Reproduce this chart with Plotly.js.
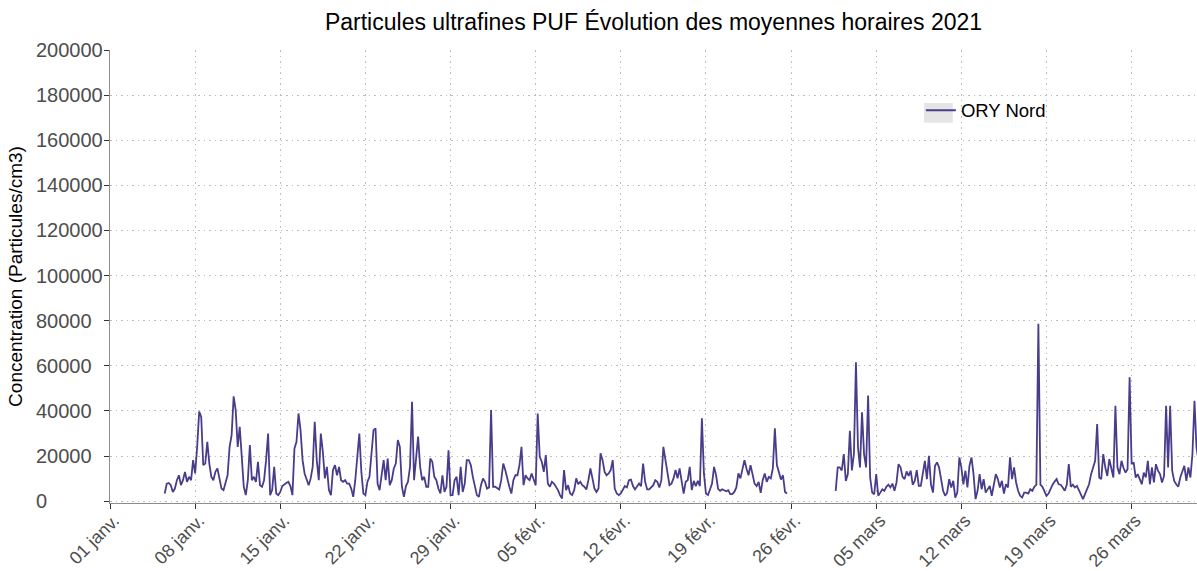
<!DOCTYPE html>
<html>
<head>
<meta charset="utf-8">
<script src="https://cdn.plot.ly/plotly-3.0.1.min.js"></script>
<style>
html,body{margin:0;padding:0;background:#fff;}
#chart{width:1197px;height:571px;}
</style>
</head>
<body>
<div id="chart"></div>
<script>
// ---- Data (hourly means, read every 4 hours) ----
const seriesName = "ORY Nord";
const startJan = "2021-01-05T12:00:00Z";   // first reading of segment 1
const startMar = "2021-03-01T16:00:00Z";   // first reading of segment 2
const stepHours = 4;

const valsA = [3400,7800,8100,7100,4100,5600,9300,11500,7100,9300,
13000,8600,10800,9300,18200,12300,24100,39700,37400,16000,
16700,26300,16700,10800,9300,13000,14500,9300,5600,4900,
7800,11500,24100,29300,46500,40400,24100,33000,19700,6400,
2700,9300,24900,9300,10800,8600,17500,7100,6400,9300,
18200,30000,2700,4900,15200,3400,2700,4100,6700,7500,
8100,8600,6700,2700,23400,26300,38900,31500,18200,12300,
9300,7100,10100,15200,35200,18200,9300,30000,21900,10100,
15200,4900,2700,13800,16000,11500,15200];

const valsB = [9300,8600,9300,7800,7800,5600,1900,9300,20400,30000,
13000,3400,2700,8600,10800,21900,31500,32300,7800,4900,
10800,18200,9300,18900,7100,9300,14500,16700,27100,24100,
6400,1900,6700,8600,15200,44100,9300,19700,28600,15200,
9300,10800,6400,6400,18900,17500,10800,9300,5600,3400,
11500,4100,6400,22600,2700,2700,9300,10800,2700,15200,
4100,7800,18200,18200,16000,10800,6400,2700,1900,7100,
10100,8600,5600,6100,40400,6400,6400,5600,5200,9300,
16700,13800,9300,6400,3400,9300];

const valsC = [11500,11500,16000,24100,7100,11500,10100,9300,12300,9300,
7100,38900,19700,17500,13000,20400,7800,6400,8600,7800,
6400,4900,2700,1200,13800,4900,7100,3400,2700,4900,
10100,7500,8600,7100,6400,5200,9300,14500,10100,5600,
4100,5600,21200,18200,13000,11500,12300,13800,18200,5600,
3400,2700,3400,5200,6700,6100,9300,9600,6700,5200,
6400,7800,6700,16700,8600,5200,5200,6100,7100,9300,
8600,6100,9300,24100,18200,14500,7100,7800,10100,13800,
10100,14500,9300,3400,8600,9300];

const valsD = [15200,4900,9000,6700,9000,6700,36700,12300,3400,2700,
5200,7800,15200,11500,5500,4600,5300,4900,4400,4900,
3100,3100,4100,6100,12300,10100,13800,18200,14500,11500,
16000,11100,7800,6700,8600,3700,9300,12300,8600,10800,
10100,14500,32300,16000,12300,9600,11500,4100,3400];

const valsE = [4600,15000,15000,13600,20900,9000,12000,31200,13600,20900,
61600,23800,15000,39400,20900,15000,46800,10500,3800,3100,
12000,2400,3800,5300,4600,6400,7300,6100,7800,4600,
8300,16400,15000,10800,9800,13200,11200,13500,7300,9000,
13800,6800,6800,13500,17900,9800,20100,7500,3800,15700,
17200,15000,9800,4600,2400,3800,9800,6100,9000,1600,
3800,19400,15000,7500,13500,6100,15700,19400,12000,900,
4600,12000,5300,9800,3800,5300,6800,2400,6800,12000,
9800,6100,9000,3400,7500,6100,19400];

const valsF = [9800,15000,8300,4600,2400,1600,3800,3800,3400,5300,
4600,6400,7300,78600,7300,6400,4600,2400,3400,5800,
7300,8700,9800,7500,7300,6100,4600,7300,16400,6400,
7300,6100,6800,4900,3100,900,3100,5800,7500,12000,
15000,17900,34200,10500,9800,20900,15000,11200,18600,13800,
10500,42300,15000,12000,17900,14700,12700,14200,54900,16400,
17200,10500,12000,9800,7500,12700,10500,17900,7500,15000,
8300,16400,13500,12000,8300,11200,42300,15000,42300,13500,
9000,7500,6400,10500,13500,15700,9000,15000,10500,20900,
44500,23800,18000];

const tickDates = ["2021-01-01","2021-01-08","2021-01-15","2021-01-22","2021-01-29",
"2021-02-05","2021-02-12","2021-02-19","2021-02-26","2021-03-05","2021-03-12",
"2021-03-19","2021-03-26"];
const tickLabels = ["01 janv.","08 janv.","15 janv.","22 janv.","29 janv.",
"05 févr.","12 févr.","19 févr.","26 févr.","05 mars","12 mars","19 mars","26 mars"];
const yTicks = [0,20000,40000,60000,80000,100000,120000,140000,160000,180000,200000];

// ---- Build ----
function timeAxis(startIso, n) {
  const t0 = new Date(startIso).getTime();
  const out = [];
  for (let k = 0; k < n; k++) {
    out.push(new Date(t0 + k * stepHours * 3600000).toISOString().slice(0,16).replace("T"," "));
  }
  return out;
}
const seg1 = valsA.concat(valsB, valsC, valsD);
const seg2 = valsE.concat(valsF);

const lineStyle = {color: "#483D8B", width: 1.8};
const traces = [
  {type:"scatter", mode:"lines", name:seriesName, legendgroup:"ory",
   x: timeAxis(startJan, seg1.length), y: seg1, line: lineStyle, hoverinfo:"x+y"},
  {type:"scatter", mode:"lines", name:seriesName, legendgroup:"ory", showlegend:false,
   x: timeAxis(startMar, seg2.length), y: seg2, line: lineStyle, hoverinfo:"x+y"}
];

const font = "Arial, 'Liberation Sans', sans-serif";
const gridStyle = {gridcolor:"#bdbdbd", gridwidth:1, griddash:"1.5px,4px"};

const annotations = yTicks.map(v => ({
  xref:"paper", yref:"y", x:-0.0695, y:v, xanchor:"left", yanchor:"middle",
  text:String(v), showarrow:false, font:{family:font, size:20, color:"#4d4d4d"}
}));

const layout = {
  width:1197, height:571,
  margin:{l:110, r:0, t:50, b:68},
  paper_bgcolor:"#ffffff", plot_bgcolor:"#ffffff",
  font:{family:font},
  title:{text:"Particules ultrafines PUF Évolution des moyennes horaires 2021",
         x:0.5, xref:"paper", y:0.962, yref:"container", yanchor:"middle",
         font:{family:font, size:23, color:"#000000"}},
  xaxis:Object.assign({
    type:"date", range:["2021-01-01 00:00","2021-03-31 09:00"],
    tickmode:"array", tickvals:tickDates, ticktext:tickLabels, tickangle:-45,
    tickfont:{family:font, size:18, color:"#4d4d4d"},
    ticklabelstandoff:-6, ticklabelshift:4,
    ticks:"outside", ticklen:5, tickcolor:"#333333", tickwidth:1,
    showline:true, linecolor:"#8c8c8c", linewidth:1,
    zeroline:false, showgrid:true, automargin:false
  }, gridStyle),
  yaxis:Object.assign({
    range:[-800, 200000], tickmode:"array", tickvals:yTicks,
    showticklabels:false,
    ticks:"outside", ticklen:5, tickcolor:"#333333", tickwidth:1,
    showline:true, linecolor:"#8c8c8c", linewidth:1,
    zeroline:false, showgrid:true, automargin:false,
    title:{text:"Concentration (Particules/cm3)", standoff:76,
           font:{family:font, size:19, color:"#000000"}}
  }, gridStyle),
  showlegend:true,
  legend:{x:0.746, y:0.866, xanchor:"left", yanchor:"middle",
          bgcolor:"rgba(0,0,0,0)", font:{family:font, size:18.5, color:"#000000"}},
  shapes:[{type:"rect", xref:"paper", yref:"paper", x0:0.7489, x1:0.7753, y0:0.8395, y1:0.883,
           fillcolor:"#e5e5e5", line:{width:0}, layer:"below"}],
  annotations: annotations
};

Plotly.newPlot("chart", traces, layout, {displayModeBar:false, staticPlot:true});
</script>
</body>
</html>
